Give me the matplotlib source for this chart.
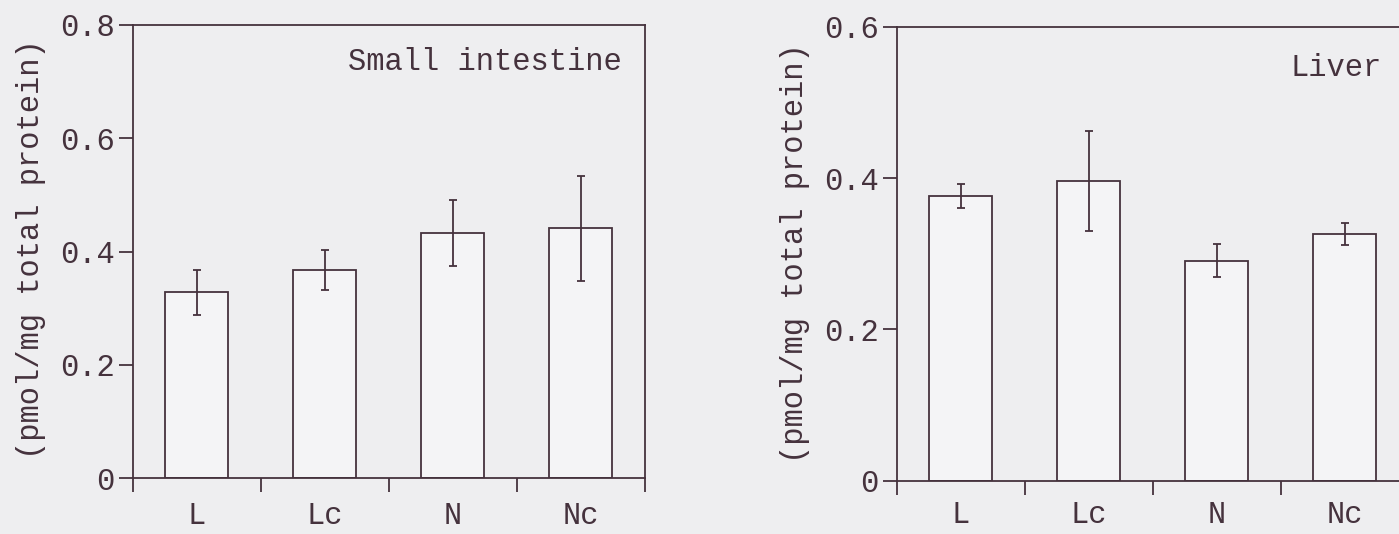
import matplotlib
matplotlib.use("Agg")
import matplotlib.pyplot as plt
import numpy as np

categories = ["L", "Lc", "N", "Nc"]
intestine_means = [0.328, 0.368, 0.433, 0.441]
intestine_errs = [0.040, 0.035, 0.059, 0.093]
liver_means = [0.376, 0.396, 0.291, 0.326]
liver_errs = [0.016, 0.066, 0.022, 0.015]
intestine_yticks = [0, 0.2, 0.4, 0.6, 0.8]
intestine_yticklabels = ["0", "0.2", "0.4", "0.6", "0.8"]
liver_yticks = [0, 0.2, 0.4, 0.6]
liver_yticklabels = ["0", "0.2", "0.4", "0.6"]
ylabel = "(pmol/mg total protein)"

plt.rcParams['font.family'] = ['Liberation Mono', 'DejaVu Sans Mono']

INK = "#45323d"
BG = "#eeeef0"
BAR = "#f4f4f6"
FS = 22

W, H = 1399, 534
fig = plt.figure(figsize=(W / 100, H / 100), dpi=100)
fig.patch.set_facecolor(BG)


def panel(rect, means, errs, ymax, yticks, yticklabels, title, title_pos, ylabel_px,
          xpad):
    ax = fig.add_axes(rect)
    ax.set_facecolor(BG)
    x = np.arange(len(categories))
    ax.bar(x, means, width=0.49, color=BAR, edgecolor=INK, linewidth=1.3, zorder=2)
    ax.errorbar(x, means, yerr=errs, fmt="none", ecolor=INK, elinewidth=1.3,
                capsize=3.2, capthick=1.3, zorder=3)
    ax.set_xlim(-0.5, len(categories) - 0.5)
    ax.set_ylim(0, ymax)
    for s in ax.spines.values():
        s.set_color(INK)
        s.set_linewidth(1.3)
    ax.set_xticks(np.arange(len(categories) + 1) - 0.5)
    ax.set_xticklabels([])
    ax.set_xticks(x, minor=True)
    ax.set_xticklabels(categories, minor=True, fontsize=FS, color=INK)
    ax.tick_params(axis="x", which="major", direction="out", length=10, width=1.3,
                   color=INK)
    ax.tick_params(axis="x", which="minor", length=0, pad=xpad)
    ax.set_yticks(yticks)
    ax.set_yticklabels(yticklabels, fontsize=FS, color=INK)
    ax.tick_params(axis="y", direction="out", length=10, width=1.3, color=INK, pad=3)
    fig.text(ylabel_px[0] / W, 1 - ylabel_px[1] / H, ylabel, rotation=90,
             ha="center", va="center", fontsize=FS, color=INK)
    ax.text(title_pos[0], title_pos[1], title, transform=ax.transAxes, ha="right",
            va="center", fontsize=FS, color=INK)
    return ax


panel([132.7 / W, (H - 478.3) / H, 512 / W, 453.3 / H], intestine_means,
      intestine_errs, 0.8, intestine_yticks, intestine_yticklabels, "Small intestine",
      (0.955, 0.918), (31, 249), 16)
panel([896.7 / W, (H - 480.7) / H, 512 / W, 454 / H], liver_means,
      liver_errs, 0.6, liver_yticks, liver_yticklabels, "Liver",
      (0.947, 0.909), (795, 253), 14)

fig.savefig("out.png", dpi=100, facecolor=BG)
